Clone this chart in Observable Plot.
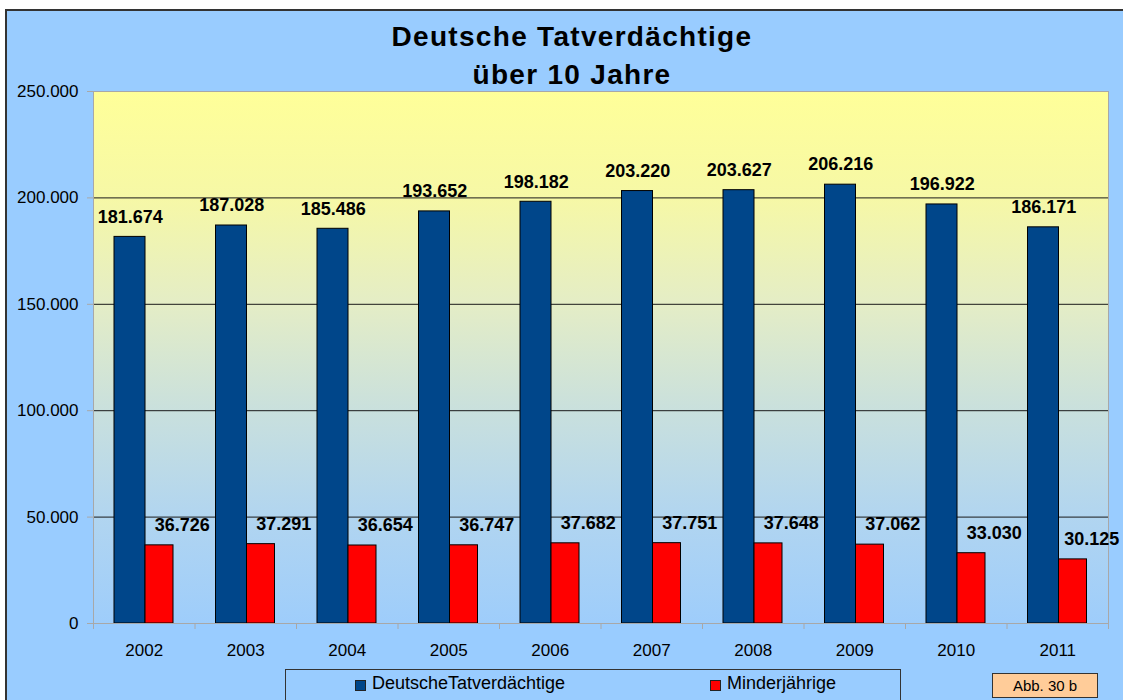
<!DOCTYPE html>
<html>
<head>
<meta charset="utf-8">
<script src="https://cdn.jsdelivr.net/npm/d3@7"></script>
<script src="https://cdn.jsdelivr.net/npm/@observablehq/plot@0.6"></script>
<style>
  html, body { margin: 0; padding: 0; background: white; }
  #wrap { position: relative; width: 1123px; height: 700px; overflow: hidden; background: white; font-family: "Liberation Sans", Arial, sans-serif; }
  #bg { position: absolute; left: 5px; top: 9px; width: 1140px; height: 720px; background: #99CCFF; border-top: 2px solid #333; border-left: 2px solid #333; }
  #chart { position: absolute; left: 0; top: 0; }
  #title { position: absolute; left: 0; top: 18px; width: 1144px; text-align: center; font-weight: bold; font-size: 28px; line-height: 38px; color: #000; letter-spacing: 1.3px; }
  #legend { position: absolute; left: 285px; top: 669px; width: 614px; height: 50px; border: 1.5px solid #333; }
  .sw { position: absolute; width: 9px; height: 9px; border: 1px solid #222; }
  .lt { position: absolute; font-size: 18px; line-height: 18px; color: #000; white-space: nowrap; }
  #abb { position: absolute; left: 992px; top: 673px; width: 104px; height: 23px; border: 1.5px solid #333; background: #FFCC99; font-size: 15px; line-height: 23px; text-align: center; color: #000; }
</style>
</head>
<body>
<div id="wrap">
  <div id="bg"></div>
  <div id="chart"></div>
  <div id="title"></div>
  <div id="legendItems"></div>
  <div id="legend"></div>
  <div id="abb"></div>
</div>
<script>
// ---- data ----
const years = ["2002","2003","2004","2005","2006","2007","2008","2009","2010","2011"];
const deutsche = [181674,187028,185486,193652,198182,203220,203627,206216,196922,186171];
const minderjaehrige = [36726,37291,36654,36747,37682,37751,37648,37062,33030,30125];
const seriesNames = ["DeutscheTatverdächtige","Minderjährige"];
const seriesColors = ["#00468A","#FF0000"];
const yTicks = [0,50000,100000,150000,200000,250000];
const gridTicks = [50000,100000,150000,200000];
const titleLines = ["Deutsche Tatverdächtige","über 10 Jahre"];
const noteText = "Abb. 30 b";

const de = d3.formatLocale({decimal: ",", thousands: ".", grouping: [3], currency: ["", " €"]});
const fmt = de.format(",");

const rows = years.map((y, i) => ({year: y, d: deutsche[i], m: minderjaehrige[i]}));
const font = "Liberation Sans, Arial, sans-serif";

const plot = Plot.plot({
  width: 1123,
  height: 700,
  marginLeft: 93,
  marginRight: 15,
  marginTop: 91,
  marginBottom: 77,
  style: {background: "transparent", fontFamily: font, overflow: "visible"},
  x: {type: "band", domain: years, padding: 0, round: false, label: null},
  y: {domain: [0, 250000], label: null},
  marks: [
    Plot.frame({fill: "url(#bgGrad)", stroke: "none"}),
    Plot.ruleY(gridTicks, {stroke: "#1a1a1a", strokeWidth: 1}),
    Plot.barY(rows, {x: "year", y: "d", fill: seriesColors[0], stroke: "#000", strokeWidth: 1, insetLeft: 21, insetRight: 49.5}),
    Plot.barY(rows, {x: "year", y: "m", fill: seriesColors[1], stroke: "#000", strokeWidth: 1, insetLeft: 52, insetRight: 21.5}),
    Plot.frame({stroke: "#a8a8a8", strokeWidth: 1}),
    Plot.axisY({ticks: yTicks, tickFormat: fmt, tickSize: 6, tickPadding: 9, stroke: "#a8a8a8", fill: "#000", fontSize: 17, label: null}),
    Plot.axisX({tickSize: 0, tickPadding: 20, fill: "#000", fontSize: 17, label: null}),
    Plot.axisX({tickSize: 6, tickFormat: () => "", dx: -50.75, stroke: "#a8a8a8", label: null}),
    Plot.axisX({ticks: [years[years.length - 1]], tickSize: 6, tickFormat: () => "", dx: 50.75, stroke: "#a8a8a8", label: null}),
    Plot.text(rows, {x: "year", y: "d", text: r => fmt(r.d), dx: -14, dy: -20, fontSize: 18, fontWeight: "bold", fill: "#000"}),
    Plot.text(rows.filter(r => r.year !== "2011"), {x: "year", y: "m", text: r => fmt(r.m), dx: 38, dy: -20, fontSize: 18, fontWeight: "bold", fill: "#000"}),
    Plot.text(rows.filter(r => r.year === "2011"), {x: "year", y: "m", text: r => fmt(r.m), dx: 34, dy: -20, fontSize: 18, fontWeight: "bold", fill: "#000"})
  ]
});

// gradient for the plot area
const defs = d3.select(plot).insert("defs", ":first-child");
const grad = defs.append("linearGradient").attr("id", "bgGrad").attr("x1", 0).attr("y1", 0).attr("x2", 0).attr("y2", 1);
[[0, "#FFFF99"], [0.2, "#F6F8A6"], [0.4, "#E4EDC6"], [0.6, "#C9E0DD"], [0.8, "#B1D5F0"], [1, "#9ECDFB"]]
  .forEach(([o, c]) => grad.append("stop").attr("offset", o).attr("stop-color", c));

document.getElementById("chart").appendChild(plot);

// title
document.getElementById("title").innerHTML = titleLines.join("<br>");

// legend
const li = document.getElementById("legendItems");
const legendPos = [{sx: 355, tx: 372}, {sx: 710, tx: 727}];
seriesNames.forEach((name, i) => {
  const sw = document.createElement("div");
  sw.className = "sw";
  sw.style.left = legendPos[i].sx + "px";
  sw.style.top = "680px";
  sw.style.background = seriesColors[i];
  li.appendChild(sw);
  const t = document.createElement("div");
  t.className = "lt";
  t.style.left = legendPos[i].tx + "px";
  t.style.top = "674px";
  t.textContent = name;
  li.appendChild(t);
});

document.getElementById("abb").textContent = noteText;
</script>
</body>
</html>
